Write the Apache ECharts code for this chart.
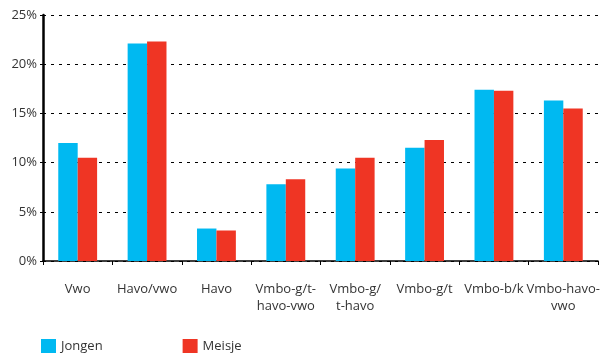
<!DOCTYPE html>
<html>
<head>
<meta charset="utf-8">
<script src="https://cdn.jsdelivr.net/npm/echarts@6/dist/echarts.min.js"></script>
<style>
html,body{margin:0;padding:0;background:#fff;}
#chart{width:604px;height:355px;}
</style>
</head>
<body>
<div id="chart"></div>
<script>
var categories = ["Vwo", "Havo/vwo", "Havo", "Vmbo-g/t-\nhavo-vwo", "Vmbo-g/\nt-havo", "Vmbo-g/t", "Vmbo-b/k", "Vmbo-havo-\nvwo"];
var jongen = [12.0, 22.1, 3.3, 7.8, 9.4, 11.5, 17.4, 16.3];
var meisje = [10.5, 22.3, 3.1, 8.3, 10.5, 12.3, 17.3, 15.5];
var seriesNames = ["Jongen", "Meisje"];
var yTicks = [0, 5, 10, 15, 20, 25];

var chart = echarts.init(document.getElementById('chart'), null, {renderer: 'canvas'});
var font = '"Open Sans", "DejaVu Sans", sans-serif';
chart.setOption({
  animation: false,
  textStyle: {fontFamily: font},
  grid: {left: 43, right: 6, top: 15, bottom: 94},
  legend: {
    left: 41, top: 339, padding: 0,
    itemWidth: 15, itemHeight: 14, itemGap: 80,
    icon: 'rect',
    data: seriesNames,
    textStyle: {fontFamily: font, fontSize: 13, color: '#333'}
  },
  xAxis: {
    type: 'category',
    data: categories,
    axisLine: {lineStyle: {color: '#000', width: 1.5}},
    axisTick: {show: true, length: 4, lineStyle: {color: '#000', width: 1}},
    axisLabel: {interval: 0, margin: 20, fontSize: 13, lineHeight: 17, color: '#333', fontFamily: font}
  },
  yAxis: {
    type: 'value',
    min: yTicks[0], max: yTicks[yTicks.length - 1], interval: 5,
    axisLine: {show: true, lineStyle: {color: '#000', width: 2.5}},
    axisTick: {show: true, length: 3, lineStyle: {color: '#000', width: 1}},
    axisLabel: {formatter: '{value}%', margin: 6, fontSize: 13, color: '#333', fontFamily: font},
    splitLine: {show: true, lineStyle: {color: '#000', type: [3, 5], width: 1}}
  },
  series: [
    {name: seriesNames[0], type: 'bar', data: jongen, barGap: '0%', barCategoryGap: '44%', itemStyle: {color: '#00b9f1'}},
    {name: seriesNames[1], type: 'bar', data: meisje, barGap: '0%', barCategoryGap: '44%', itemStyle: {color: '#ef3524'}}
  ]
});
</script>
</body>
</html>
